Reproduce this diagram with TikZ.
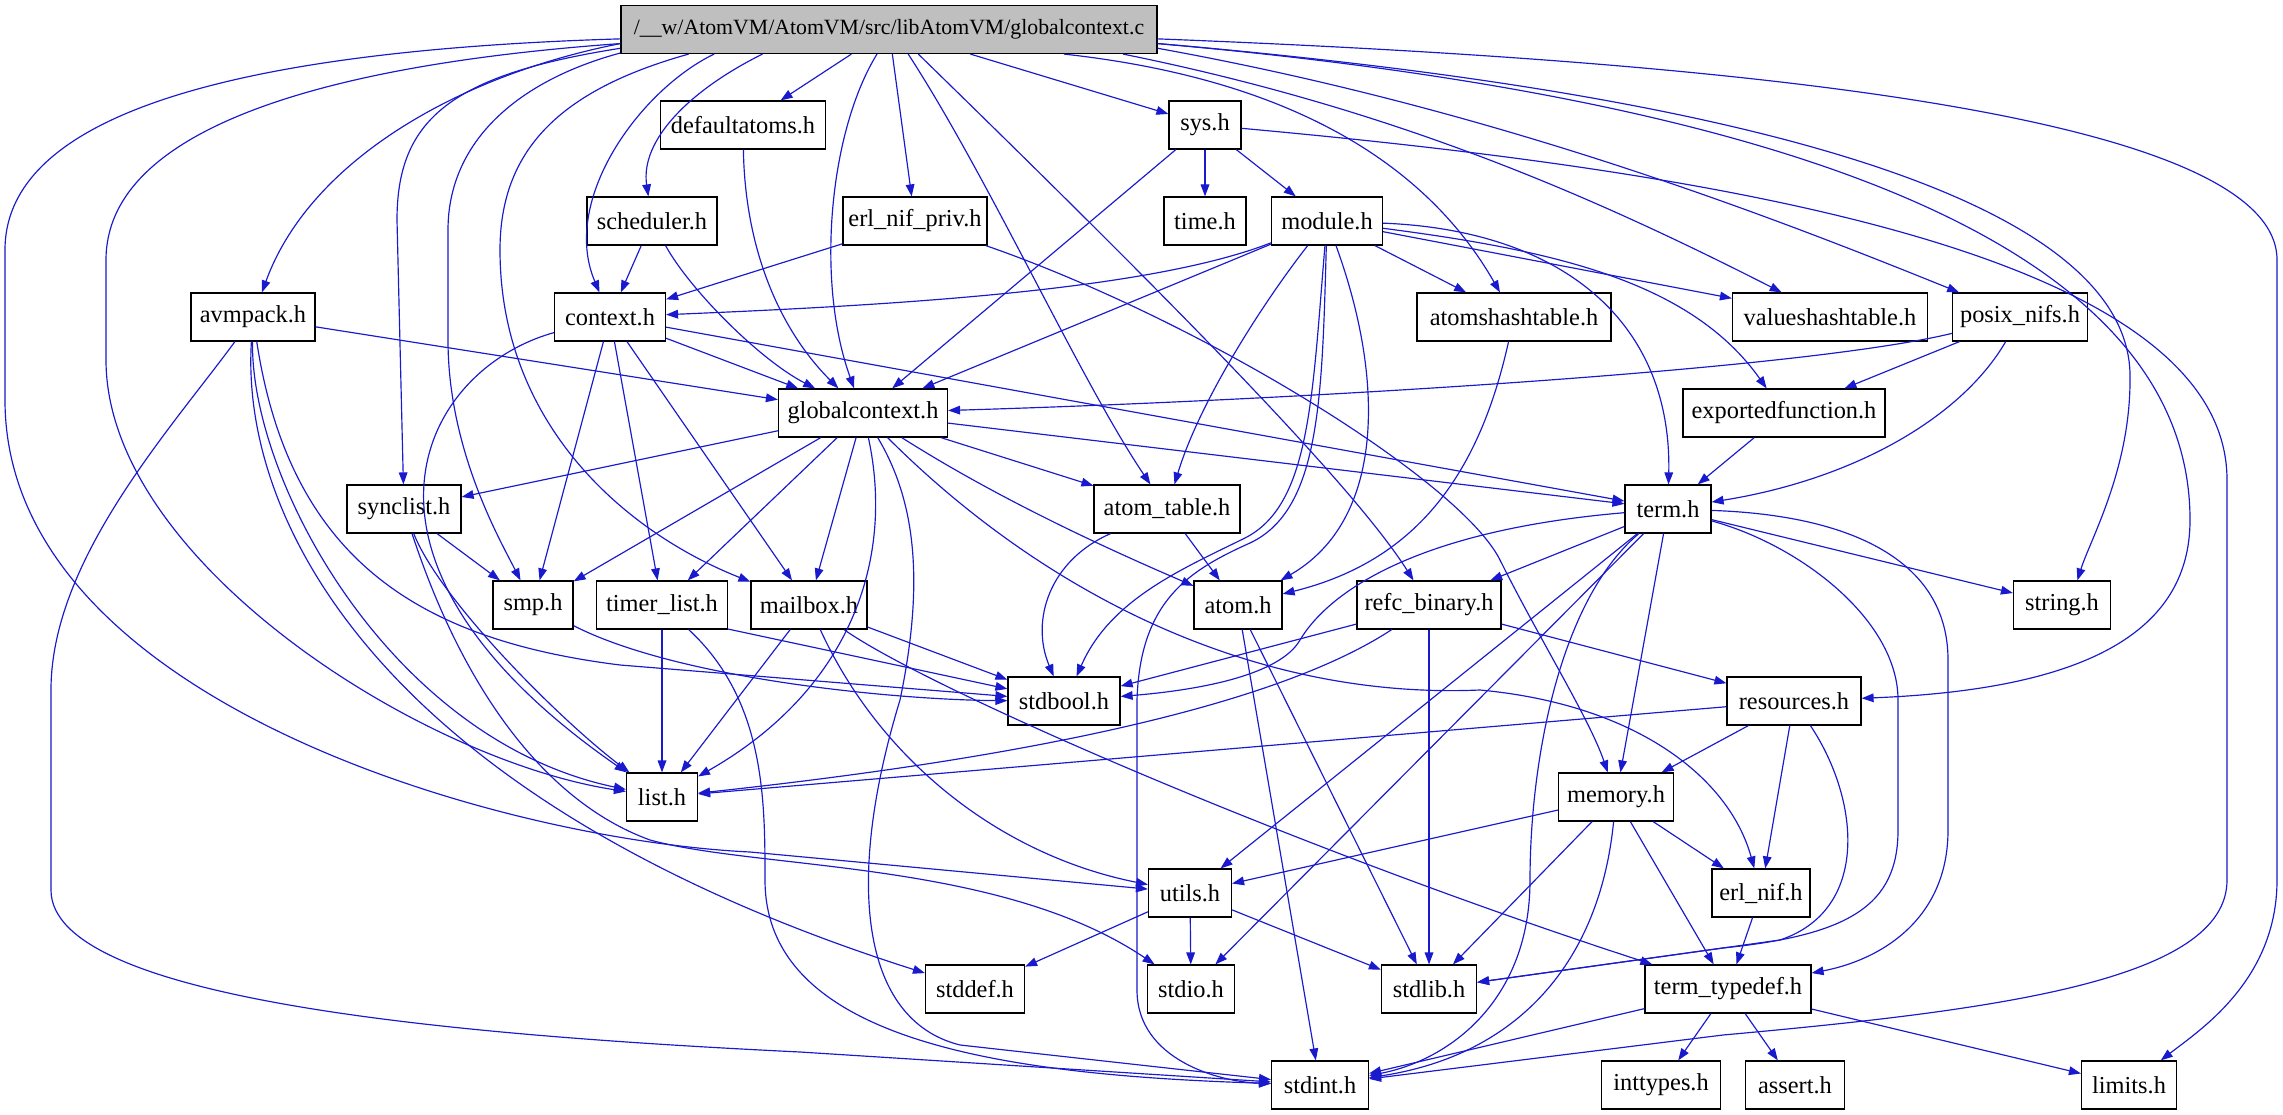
\documentclass[tikz,border=0pt]{standalone}
\usepackage{fontspec}
\setmainfont{Liberation Serif}
\usepackage{tikz}
\usetikzlibrary{arrows.meta}
\definecolor{incblue}{RGB}{25,25,205}
\definecolor{srcgrey}{RGB}{191,191,191}

\begin{document}
\begin{tikzpicture}[
  x=0.015cm, y=-0.015cm,
  font=\fontsize{10.4}{12}\selectfont,
  hdr/.style={draw=black, line width=0.5pt, fill=white, inner sep=0pt, minimum height=0.72cm},
  src/.style={hdr, fill=srcgrey, font=\fontsize{9.3}{12}\selectfont},
  inc/.style={-{Triangle[length=0.18cm, width=0.13cm]}, draw=incblue, line width=0.5pt}
]
\useasboundingbox (0,0) rectangle (2283,1115);
\node[src, minimum width=8.04cm] (root) at (889,29.5) {/\_\_w/AtomVM/AtomVM/src/libAtomVM/globalcontext.c};
\node[hdr, minimum width=2.475cm] (defaultatoms) at (743,125) {defaultatoms.h};
\node[hdr, minimum width=1.08cm] (sys) at (1205,125) {sys.h};
\node[hdr, minimum width=1.95cm] (scheduler) at (652,221) {scheduler.h};
\node[hdr, minimum width=2.16cm] (erlnifpriv) at (915,221) {erl\_nif\_priv.h};
\node[hdr, minimum width=1.23cm] (time) at (1205,221) {time.h};
\node[hdr, minimum width=1.665cm] (module) at (1327,221) {module.h};
\node[hdr, minimum width=1.86cm] (avmpack) at (253,317) {avmpack.h};
\node[hdr, minimum width=1.665cm] (context) at (610,317) {context.h};
\node[hdr, minimum width=2.91cm] (atomshashtable) at (1514,317) {atomshashtable.h};
\node[hdr, minimum width=2.925cm] (valueshashtable) at (1830,317) {valueshashtable.h};
\node[hdr, minimum width=2.025cm] (posixnifs) at (2020,317) {posix\_nifs.h};
\node[hdr, minimum width=2.535cm] (globalcontext) at (863,413) {globalcontext.h};
\node[hdr, minimum width=3.03cm] (exportedfunction) at (1784,413) {exportedfunction.h};
\node[hdr, minimum width=1.71cm] (synclist) at (404,509) {synclist.h};
\node[hdr, minimum width=2.19cm] (atomtable) at (1167,509) {atom\_table.h};
\node[hdr, minimum width=1.29cm] (term) at (1668,509) {term.h};
\node[hdr, minimum width=1.2cm] (smp) at (533,605) {smp.h};
\node[hdr, minimum width=1.965cm] (timerlist) at (662,605) {timer\_list.h};
\node[hdr, minimum width=1.74cm] (mailbox) at (809,605) {mailbox.h};
\node[hdr, minimum width=1.32cm] (atom) at (1238,605) {atom.h};
\node[hdr, minimum width=2.16cm] (refcbinary) at (1429,605) {refc\_binary.h};
\node[hdr, minimum width=1.455cm] (string) at (2062,605) {string.h};
\node[hdr, minimum width=1.68cm] (stdbool) at (1064,701) {stdbool.h};
\node[hdr, minimum width=2.01cm] (resources) at (1794,701) {resources.h};
\node[hdr, minimum width=1.065cm] (list) at (662,797) {list.h};
\node[hdr, minimum width=1.725cm] (memory) at (1616,797) {memory.h};
\node[hdr, minimum width=1.245cm] (utils) at (1190,893) {utils.h};
\node[hdr, minimum width=1.47cm] (erlnif) at (1761,893) {erl\_nif.h};
\node[hdr, minimum width=1.485cm] (stddef) at (975,989) {stddef.h};
\node[hdr, minimum width=1.305cm] (stdio) at (1191,989) {stdio.h};
\node[hdr, minimum width=1.425cm] (stdlib) at (1429,989) {stdlib.h};
\node[hdr, minimum width=2.49cm] (termtypedef) at (1728,989) {term\_typedef.h};
\node[hdr, minimum width=1.455cm] (stdint) at (1320,1085) {stdint.h};
\node[hdr, minimum width=1.785cm] (inttypes) at (1661,1085) {inttypes.h};
\node[hdr, minimum width=1.485cm] (assert) at (1795,1085) {assert.h};
\node[hdr, minimum width=1.425cm] (limits) at (2129,1085) {limits.h};
\draw[inc] (root.182.5) .. controls (250,50) and (5,110) .. (5,250) -- (5,400) .. controls (5,700) and (500,840) .. (750,852) -- (utils);
\draw[inc] (root.183.3) .. controls (320,65) and (106,130) .. (106,260) -- (106,360) .. controls (106,560) and (420,760) .. (list);
\draw[inc] (root.183.9) .. controls (460,75) and (310,160) .. (avmpack);
\draw[inc] (root.184.4) .. controls (450,75) and (397,120) .. (397,220) -- (synclist);
\draw[inc] (root.185.4) .. controls (520,80) and (448,140) .. (448,230) -- (448,340) .. controls (448,450) and (500,540) .. (smp);
\draw[inc] (root.187) .. controls (560,90) and (500,150) .. (500,250) .. controls (500,420) and (620,530) .. (mailbox);
\draw[inc] (root.188.8) .. controls (640,90) and (560,200) .. (context);
\draw[inc] (root.191) .. controls (690,90) and (640,140) .. (scheduler);
\draw[inc] (root) -- (defaultatoms);
\draw[inc] (root.244) .. controls (830,130) and (815,280) .. (globalcontext);
\draw[inc] (root) -- (erlnifpriv);
\draw[inc] (root.308) .. controls (990,180) and (1080,380) .. (atomtable);
\draw[inc] (root.320) .. controls (1150,280) and (1350,480) .. (refcbinary);
\draw[inc] (root) -- (sys);
\draw[inc] (root.352.7) .. controls (1300,80) and (1430,170) .. (atomshashtable);
\draw[inc] (root.354.1) .. controls (1400,110) and (1600,200) .. (valueshashtable);
\draw[inc] (root.356) .. controls (1500,110) and (1780,220) .. (posixnifs);
\draw[inc] (root.357.8) .. controls (1700,90) and (2135,190) .. (2130,380) .. controls (2130,470) and (2090,540) .. (string.58);
\draw[inc] (root.357) .. controls (1800,100) and (2190,250) .. (2190,520) .. controls (2190,640) and (2070,690) .. (resources);
\draw[inc] (root.358.3) .. controls (1700,60) and (2277,110) .. (2277,260) -- (2277,880) .. controls (2277,980) and (2200,1030) .. (limits);
\draw[inc] (sys) -- (globalcontext);
\draw[inc] (sys) -- (time);
\draw[inc] (sys) -- (module);
\draw[inc] (sys) .. controls (1700,170) and (2227,250) .. (2227,480) -- (2227,880) .. controls (2227,980) and (2000,1010) .. (1723,1035) -- (stdint);
\draw[inc] (scheduler) -- (context);
\draw[inc] (scheduler) .. controls (690,290) and (760,360) .. (globalcontext);
\draw[inc] (defaultatoms) .. controls (745,250) and (780,330) .. (globalcontext);
\draw[inc] (erlnifpriv) -- (context);
\draw[inc] (erlnifpriv) .. controls (1200,320) and (1460,480) .. (1500,560) .. controls (1540,640) and (1590,720) .. (memory);
\draw[inc] (avmpack) -- (globalcontext);
\draw[inc] (avmpack) .. controls (170,430) and (51,560) .. (51,690) -- (51,890) .. controls (51,1000) and (450,1035) .. (800,1052) -- (stdint);
\draw[inc] (avmpack) .. controls (240,520) and (380,800) .. (stddef);
\draw[inc] (avmpack) .. controls (250,480) and (390,740) .. (list);
\draw[inc] (avmpack) .. controls (290,560) and (420,640) .. (620,665) -- (stdbool);
\draw[inc] (context) -- (globalcontext);
\draw[inc] (context) -- (term);
\draw[inc] (context) -- (smp);
\draw[inc] (context) -- (timerlist);
\draw[inc] (context) -- (mailbox);
\draw[inc] (context) .. controls (420,370) and (320,560) .. (list);
\draw[inc] (synclist) -- (smp);
\draw[inc] (synclist) .. controls (440,600) and (560,720) .. (list);
\draw[inc] (synclist) .. controls (460,680) and (540,800) .. (650,840) .. controls (760,870) and (1000,860) .. (stdio);
\draw[inc] (globalcontext) -- (synclist);
\draw[inc] (globalcontext) -- (smp);
\draw[inc] (globalcontext) -- (timerlist);
\draw[inc] (globalcontext) -- (mailbox);
\draw[inc] (globalcontext) .. controls (895,560) and (850,690) .. (list);
\draw[inc] (globalcontext) .. controls (915,500) and (925,580) .. (900,700) .. controls (845,880) and (860,1020) .. (960,1045) -- (stdint);
\draw[inc] (globalcontext) .. controls (1040,590) and (1250,700) .. (1480,690) .. controls (1640,705) and (1730,780) .. (erlnif);
\draw[inc] (globalcontext) .. controls (1000,500) and (1110,550) .. (atom);
\draw[inc] (globalcontext) -- (atomtable);
\draw[inc] (globalcontext) -- (term);
\draw[inc] (module) .. controls (1150,290) and (900,305) .. (context);
\draw[inc] (module) -- (globalcontext);
\draw[inc] (module) .. controls (1265,300) and (1200,400) .. (atomtable);
\draw[inc] (module) .. controls (1312,400) and (1310,505) .. (1245,538) .. controls (1180,570) and (1110,600) .. (stdbool.63);
\draw[inc] (module) .. controls (1322,400) and (1320,510) .. (1250,543) .. controls (1190,570) and (1140,600) .. (1137,700) -- (1137,990) .. controls (1137,1060) and (1220,1082) .. (stdint);
\draw[inc] (module) .. controls (1385,380) and (1385,520) .. (atom);
\draw[inc] (module) -- (atomshashtable);
\draw[inc] (module) -- (valueshashtable);
\draw[inc] (module) .. controls (1550,250) and (1690,280) .. (exportedfunction);
\draw[inc] (module) .. controls (1560,230) and (1672,320) .. (term);
\draw[inc] (atomshashtable) .. controls (1480,470) and (1420,560) .. (atom);
\draw[inc] (posixnifs) .. controls (1800,370) and (1300,400) .. (globalcontext);
\draw[inc] (posixnifs) -- (exportedfunction);
\draw[inc] (posixnifs) .. controls (1960,420) and (1850,480) .. (term);
\draw[inc] (exportedfunction) -- (term);
\draw[inc] (atomtable) -- (atom);
\draw[inc] (atomtable) .. controls (1050,560) and (1030,620) .. (stdbool);
\draw[inc] (atom) -- (stdint);
\draw[inc] (atom) -- (stdlib);
\draw[inc] (smp) .. controls (680,680) and (900,700) .. (stdbool);
\draw[inc] (timerlist) -- (list);
\draw[inc] (timerlist.-20) -- (stdbool);
\draw[inc] (timerlist) .. controls (765,700) and (765,800) .. (765,880) .. controls (765,1040) and (1000,1075) .. (stdint);
\draw[inc] (mailbox) -- (list);
\draw[inc] (mailbox) -- (stdbool);
\draw[inc] (mailbox) .. controls (880,760) and (1000,855) .. (utils);
\draw[inc] (mailbox) .. controls (930,690) and (1300,850) .. (termtypedef);
\draw[inc] (refcbinary) -- (stdbool);
\draw[inc] (refcbinary) .. controls (1300,690) and (1100,750) .. (list);
\draw[inc] (refcbinary) -- (stdlib);
\draw[inc] (refcbinary) -- (resources);
\draw[inc] (term) .. controls (1420,530) and (1330,590) .. (1300,640) .. controls (1280,675) and (1200,690) .. (stdbool);
\draw[inc] (term) -- (refcbinary);
\draw[inc] (term) -- (utils);
\draw[inc] (term) -- (stdio);
\draw[inc] (term) .. controls (1560,600) and (1530,760) .. (1530,880) .. controls (1530,1000) and (1450,1060) .. (stdint);
\draw[inc] (term) -- (memory);
\draw[inc] (term) -- (string);
\draw[inc] (term) .. controls (1800,545) and (1898,620) .. (1898,700) -- (1898,830) .. controls (1898,905) and (1850,935) .. (1723,948) -- (stdlib);
\draw[inc] (term) .. controls (1850,515) and (1948,560) .. (1948,660) -- (1948,830) .. controls (1948,920) and (1880,960) .. (termtypedef);
\draw[inc] (resources) -- (list);
\draw[inc] (resources) -- (memory);
\draw[inc] (resources) -- (erlnif);
\draw[inc] (resources) .. controls (1860,800) and (1870,910) .. (1780,940) -- (stdlib);
\draw[inc] (memory) -- (utils);
\draw[inc] (memory) -- (stdlib);
\draw[inc] (memory) .. controls (1600,960) and (1520,1055) .. (stdint);
\draw[inc] (memory) -- (termtypedef);
\draw[inc] (memory) -- (erlnif);
\draw[inc] (utils) -- (stddef);
\draw[inc] (utils) -- (stdio);
\draw[inc] (utils) -- (stdlib);
\draw[inc] (erlnif) -- (termtypedef);
\draw[inc] (termtypedef) -- (stdint);
\draw[inc] (termtypedef) -- (inttypes);
\draw[inc] (termtypedef) -- (assert);
\draw[inc] (termtypedef) -- (limits);
\end{tikzpicture}
\end{document}
